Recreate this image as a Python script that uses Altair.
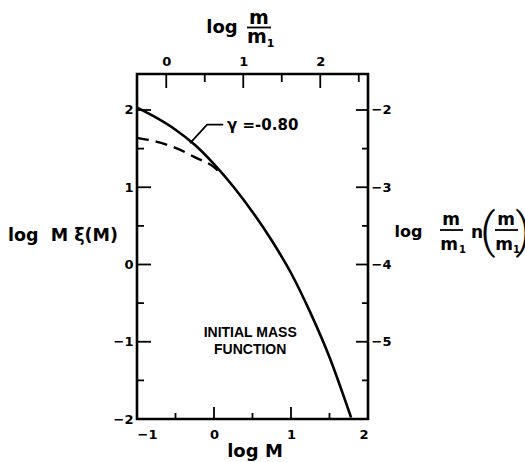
import altair as alt
import pandas as pd

# ---- data ----
solid_logM = [-1.0, -0.75, -0.5, -0.25, 0.0, 0.25, 0.5, 0.75, 1.0, 1.25, 1.5, 1.78]
solid_val = [2.03, 1.90, 1.745, 1.55, 1.30, 1.01, 0.68, 0.31, -0.11, -0.62, -1.20, -1.98]

dashed_logM = [-1.0, -0.75, -0.5, -0.25, 0.0, 0.1]
dashed_val = [1.64, 1.59, 1.51, 1.39, 1.26, 1.17]

leader_logM = [-0.31, -0.09, 0.12]
leader_val = [1.57, 1.81, 1.81]

gamma_label = ["γ =-0.80"]
gamma_logM = [0.17]
gamma_val = [1.81]

imf_lines = ["INITIAL MASS", "FUNCTION"]
imf_logM = [0.47, 0.47]
imf_val = [-0.89, -1.11]

bottom_major = [-1, 0, 1, 2]
bottom_minor = [-0.5, 0.5, 1.5]
left_major = [-2, -1, 0, 1, 2]
left_minor = [-1.5, -0.5, 0.5, 1.5]
top_major = [0, 1, 2]
top_minor = [0.5, 1.5, 2.5]
right_major = [-2, -3, -4, -5]
right_minor = [-2.5, -3.5, -4.5, -5.5]

X_DOMAIN = [-1, 2]
Y_DOMAIN = [-2, 2.466]
TOP_DOMAIN = [-0.38, 2.62]   # log m/m1 = log M + 0.62
RIGHT_DOMAIN = [-6, -1.534]  # right = left - 4

W, H = 231, 345
FONT = "DejaVu Sans"

xs = alt.Scale(domain=X_DOMAIN, nice=False, zero=False)
ys = alt.Scale(domain=Y_DOMAIN, nice=False, zero=False)
ts = alt.Scale(domain=TOP_DOMAIN, nice=False, zero=False)
rs = alt.Scale(domain=RIGHT_DOMAIN, nice=False, zero=False)

lab = dict(labelFont=FONT, labelFontWeight="bold", labelFontSize=13, labelColor="black",
           ticks=False, domain=False, grid=False, title=None)

def X(field="x"):
    return alt.X(f"{field}:Q", scale=xs,
                 axis=alt.Axis(orient="bottom", values=bottom_major, labelPadding=9, **lab))

def Y(field="y"):
    return alt.Y(f"{field}:Q", scale=ys,
                 axis=alt.Axis(orient="left", values=left_major, labelPadding=4, **lab))

solid_df = pd.DataFrame({"x": solid_logM, "y": solid_val})
dashed_df = pd.DataFrame({"x": dashed_logM, "y": dashed_val})
leader_df = pd.DataFrame({"x": leader_logM, "y": leader_val})
gamma_df = pd.DataFrame({"x": gamma_logM, "y": gamma_val, "t": gamma_label})
imf_df = pd.DataFrame({"x": imf_logM, "y": imf_val, "t": imf_lines})

solid = alt.Chart(solid_df).mark_line(color="black", strokeWidth=2.6, interpolate="monotone").encode(x=X(), y=Y())
dashed = alt.Chart(dashed_df).mark_line(color="black", strokeWidth=2.4, strokeDash=[12, 7],
                                        interpolate="monotone").encode(x=X(), y=Y())
leader = alt.Chart(leader_df).mark_line(color="black", strokeWidth=1.8).encode(x=X(), y=Y())
gamma = alt.Chart(gamma_df).mark_text(align="left", baseline="middle", font=FONT, fontWeight="bold",
                                      fontSize=15, color="black").encode(x=X(), y=Y(), text="t:N")
imf = alt.Chart(imf_df).mark_text(align="center", baseline="middle", font="Liberation Sans",
                                  fontWeight="bold", fontSize=14, color="black").encode(x=X(), y=Y(), text="t:N")

def tick_df(vals):
    return pd.DataFrame({"v": vals})

left_maj = alt.Chart(tick_df(left_major)).mark_rule(color="black", strokeWidth=1.8).encode(
    y=Y("v"), x=alt.value(0), x2=alt.value(14))
left_min = alt.Chart(tick_df(left_minor)).mark_rule(color="black", strokeWidth=1.8).encode(
    y=Y("v"), x=alt.value(0), x2=alt.value(7))
bot_maj = alt.Chart(tick_df(bottom_major)).mark_rule(color="black", strokeWidth=1.8).encode(
    x=X("v"), y=alt.value(H), y2=alt.value(H - 12))
bot_min = alt.Chart(tick_df(bottom_minor)).mark_rule(color="black", strokeWidth=1.8).encode(
    x=X("v"), y=alt.value(H), y2=alt.value(H - 6))

def txt(text, x, y, size=17, align="center", baseline="alphabetic", font=FONT, weight="bold"):
    return alt.Chart(alt.Data(values=[{}])).mark_text(
        text=text, fontSize=size, font=font, fontWeight=weight, align=align,
        baseline=baseline, color="black").encode(x=alt.value(x), y=alt.value(y))

def bar(x1, x2, y):
    return alt.Chart(alt.Data(values=[{}])).mark_rule(color="black", strokeWidth=1.8).encode(
        x=alt.value(x1), x2=alt.value(x2), y=alt.value(y))

titles = [
    txt("log M", 118, 383, size=18),
    txt("log\u00a0 M\u00a0ξ(M)", -74, 167, size=17.5),
    # top title
    txt("log", 85, -41, size=18),
    txt("m", 122, -50, size=19),
    bar(110, 134, -46.5),
    txt("m", 120, -31, size=19),
    txt("1", 133.5, -27, size=11),
    # right title
    txt("log", 271.5, 163, size=16),
    txt("m", 314, 151, size=17),
    bar(303, 326, 156),
    txt("m", 312, 176, size=17),
    txt("1", 325.5, 179, size=10),
    txt("n", 340, 164, size=17),
    txt("(", 351, 173, size=48, font="Roboto", weight=300),
    txt("m", 369, 151, size=17),
    bar(358, 381, 156),
    txt("m", 367, 176, size=17),
    txt("1", 379.5, 179, size=10),
    txt(")", 386, 173, size=48, font="Roboto", weight=300),
]

main = alt.layer(solid, dashed, leader, gamma, imf, left_maj, left_min, bot_maj, bot_min, *titles)

top_axis = alt.Axis(orient="top", values=top_major, labelPadding=6, **lab)
top_maj = alt.Chart(tick_df(top_major)).mark_rule(color="black", strokeWidth=1.8).encode(
    x=alt.X("v:Q", scale=ts, axis=top_axis), y=alt.value(0), y2=alt.value(14))
top_min = alt.Chart(tick_df(top_minor)).mark_rule(color="black", strokeWidth=1.8).encode(
    x=alt.X("v:Q", scale=ts, axis=top_axis), y=alt.value(0), y2=alt.value(8))
top_group = alt.layer(top_maj, top_min)

right_axis = alt.Axis(orient="right", values=right_major, labelPadding=3, **lab)
right_maj = alt.Chart(tick_df(right_major)).mark_rule(color="black", strokeWidth=1.8).encode(
    y=alt.Y("v:Q", scale=rs, axis=right_axis), x=alt.value(W), x2=alt.value(W - 12))
right_min = alt.Chart(tick_df(right_minor)).mark_rule(color="black", strokeWidth=1.8).encode(
    y=alt.Y("v:Q", scale=rs, axis=right_axis), x=alt.value(W), x2=alt.value(W - 6))
right_group = alt.layer(right_maj, right_min)

chart = alt.layer(main, top_group, right_group).resolve_scale(
    x="independent", y="independent"
).properties(
    width=W, height=H,
    autosize=alt.AutoSizeParams(type="none"),
    padding={"left": 137, "top": 74, "right": 157, "bottom": 43},
    background="white",
).configure_view(stroke="black", strokeWidth=2.6)

chart.save("out.html", embed_options={"renderer": "svg", "actions": False})
